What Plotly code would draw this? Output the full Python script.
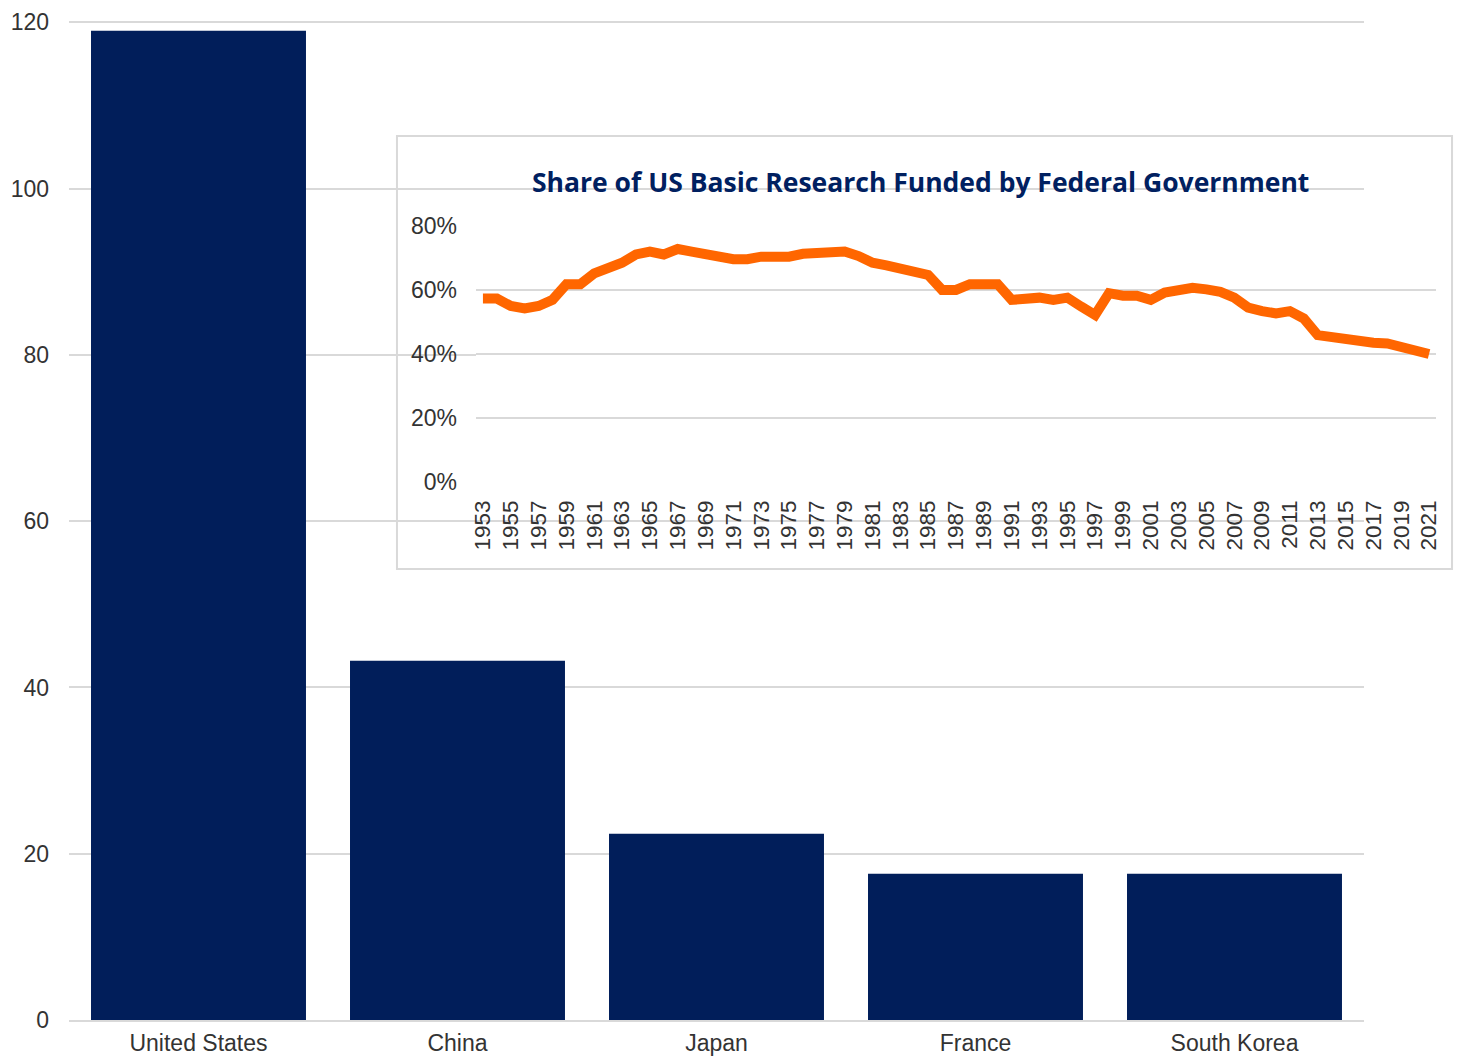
import plotly.graph_objects as go

countries = ["United States", "China", "Japan", "France", "South Korea"]
country_values = [119.0, 43.2, 22.4, 17.6, 17.6]

years = list(range(1953, 2022))
federal_share = [
    57.3, 57.3, 55.0, 54.2, 55.0, 56.9, 61.8, 61.8, 65.2, 66.8,
    68.5, 71.1, 72.0, 71.1, 72.8, 72.0, 71.1, 70.4, 69.6, 69.6,
    70.4, 70.4, 70.4, 71.3, 71.3, 72.0, 72.0, 70.6, 68.5, 67.7,
    66.8, 65.2, 64.7, 60.0, 60.0, 61.8, 61.8, 61.8, 56.9, 57.6,
    57.6, 56.9, 57.6, 54.8, 52.2, 59.0, 58.2, 58.2, 56.9, 59.2,
    60.0, 60.7, 60.2, 59.4, 57.6, 54.5, 53.4, 52.7, 53.4, 51.1,
    45.9, 45.2, 44.6, 44.4, 43.5, 43.3, 42.3, 41.0, 40.0,
]
year_ticks = list(range(1953, 2022, 2))
main_ticks = [0, 20, 40, 60, 80, 100, 120]
inset_ticks = [0, 20, 40, 60, 80]
inset_tick_text = ["0%", "20%", "40%", "60%", "80%"]
inset_title = "Share of US Basic Research Funded by Federal Government"

FONT = "Liberation Sans, Arial, sans-serif"
GRID = "#d9d9d9"
NAVY = "#011E5A"
ORANGE = "#FF6600"
TXT = "#333333"

fig = go.Figure()
fig.add_trace(go.Bar(x=countries, y=country_values, marker=dict(color=NAVY, line=dict(width=0)),
                     xaxis="x", yaxis="y", showlegend=False))
fig.add_trace(go.Scatter(x=years, y=federal_share, mode="lines",
                         line=dict(color=ORANGE, width=10),
                         xaxis="x2", yaxis="y2", showlegend=False))

fig.update_layout(
    width=1463, height=1057,
    margin=dict(l=61, r=28, t=11, b=45),
    paper_bgcolor="white", plot_bgcolor="white",
    bargap=0.17,
    font=dict(family=FONT, size=23, color=TXT),
    xaxis=dict(domain=[0, 0.9425], showgrid=False, showline=True, linecolor=GRID, linewidth=2,
               ticks="", ticklabelstandoff=1, automargin=False, tickfont=dict(size=23, color=TXT)),
    yaxis=dict(range=[0, 120.4], tickvals=main_ticks, showgrid=True, gridcolor=GRID, gridwidth=1.5,
               zeroline=False, showline=False, ticks="", ticklabelstandoff=19, automargin=False,
               tickfont=dict(size=23, color=TXT)),
    xaxis2=dict(domain=[0.2962, 0.9949], anchor="y2", range=[1952.5, 2021.5],
                tickvals=year_ticks, ticktext=[str(y) for y in year_ticks], tickangle=-90,
                showgrid=False, showline=False, zeroline=False, ticks="", ticklabelstandoff=12,
                automargin=False, tickfont=dict(size=22.5, color=TXT)),
    yaxis2=dict(domain=[0.5365, 0.7942], anchor="x2", range=[-0.3, 80.3], tickvals=inset_ticks,
                ticktext=inset_tick_text, showgrid=True, gridcolor=GRID, gridwidth=2, zeroline=False,
                showline=False, ticks="", ticklabelstandoff=18, automargin=False,
                tickfont=dict(size=23, color=TXT)),
    shapes=[dict(type="rect", xref="x2 domain", yref="y2 domain",
                 x0=-0.0823, x1=1.0167, y0=-0.3336, y1=1.3453,
                 fillcolor="white", line=dict(color=GRID, width=2), layer="below")],
    annotations=[dict(text="<b>" + inset_title + "</b>", xref="paper", yref="paper",
                      x=0.6194, y=0.8372, xanchor="center", yanchor="middle", showarrow=False,
                      font=dict(family="Open Sans, Noto Sans, sans-serif", size=26.5, color="#002060"))],
)

fig.write_html("out.html")
